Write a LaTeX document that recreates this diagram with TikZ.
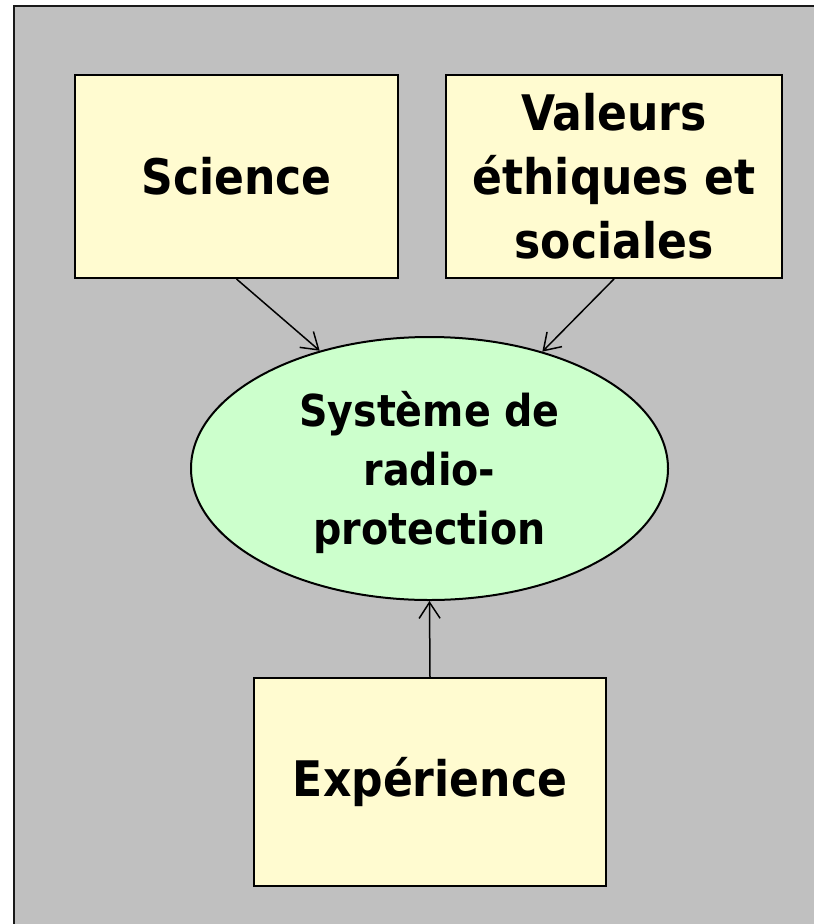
\documentclass[tikz,border=0pt]{standalone}
\usepackage{fontspec}
\setmainfont{DejaVu Sans Condensed}
\usetikzlibrary{shapes.geometric,arrows.meta}
\definecolor{panelgray}{RGB}{192,192,192}
\definecolor{boxyellow}{RGB}{255,251,208}
\definecolor{ovalgreen}{RGB}{204,255,204}
\tikzset{
  inbox/.style={draw=black,line width=2pt,fill=boxyellow,align=center,
    font=\bfseries\fontsize{49}{64}\selectfont,inner sep=0pt},
  hub/.style={ellipse,draw=black,line width=2pt,fill=ovalgreen,align=center,
    font=\bfseries\fontsize{44}{59}\selectfont,inner sep=0pt},
  feed/.style={line width=1.5pt,-{Straight Barb[length=16pt,width=21pt,line width=1.5pt]}}
}
\begin{document}
\begin{tikzpicture}[x=1pt,y=-1pt]
  \useasboundingbox (0,0) rectangle (814,924);
  \fill[panelgray] (14,6) rectangle (840,950);
  \draw[line width=2.5pt,color=black!90] (14,950) -- (14,6) -- (840,6);
  \node[inbox,minimum width=323pt,minimum height=203pt] (sci) at (236.5,176.5) {Science};
  \node[inbox,minimum width=336pt,minimum height=203pt] (val) at (614,176.5)
    {Valeurs\\éthiques et\\sociales};
  % text block lowered a little inside the oval, oval size unchanged
  \node[hub,minimum width=477pt,minimum height=263pt] (sys) at (429.5,468.5)
    {\raisebox{-5pt}[\height][\depth]{\begin{tabular}{@{}c@{}}Système de\\radio-\\protection\end{tabular}}};
  \node[inbox,minimum width=352pt,minimum height=208pt] (exp) at (430,782) {Expérience};
  \draw[feed] (sci.south) -- (sys.133.5);
  \draw[feed] (val.south) -- (sys.46.5);
  \draw[feed] (exp.north) -- (sys.south);
\end{tikzpicture}
\end{document}
